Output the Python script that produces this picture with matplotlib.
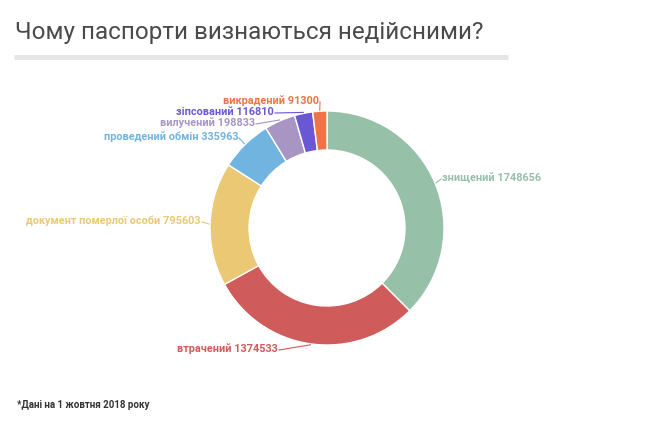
import numpy as np
import matplotlib.pyplot as plt
import matplotlib

matplotlib.rcParams['font.family'] = ['Roboto', 'DejaVu Sans']

# дані
labels = ['знищений', 'втрачений', 'документ померлої особи', 'проведений обмін',
          'вилучений', 'зіпсований', 'викрадений']
values = [1748656, 1374533, 795603, 335963, 198833, 116810, 91300]
colors = ['#97c0a8', '#cf5b5a', '#eac874', '#72b4e0', '#a895c4', '#6a57d6', '#ee7346']

# розміщення підписів (пікселі, від верхнього лівого кута)
label_xy = [(441, 178), (279, 349), (202, 221), (239, 137),
            (256, 123), (275, 112), (320, 101)]
label_ha = ['left', 'right', 'right', 'right', 'right', 'right', 'right']

W, H = 654, 430
fig = plt.figure(figsize=(W / 100, H / 100), dpi=100)
ax = fig.add_axes([0, 0, 1, 1])

cx, cy, R, r = 327, H - 228, 117, 78
wedges, _ = ax.pie(values, colors=colors, startangle=90, counterclock=False,
                   center=(cx, cy), radius=R, frame=True,
                   wedgeprops=dict(width=R - r, edgecolor='white', linewidth=1))
ax.set_xlim(0, W)
ax.set_ylim(0, H)
ax.set_aspect('equal')
ax.axis('off')

# підписи з лініями-виносками
for w, lab, v, c, (tx, ty), ha in zip(wedges, labels, values, colors, label_xy, label_ha):
    mid = np.deg2rad((w.theta1 + w.theta2) / 2)
    px = cx + (R + 1) * np.cos(mid)
    py = cy + (R + 1) * np.sin(mid)
    ty = H - ty
    ax.plot([px, tx], [py, ty - 1], color=c, lw=0.8)
    ax.text(tx + (1 if ha == 'left' else -1), ty, f'{lab} {v}', color=c,
            fontsize=7.8, fontweight='bold', ha=ha, va='center')

# заголовок
fig.text(15 / W, 1 - 33 / H, 'Чому паспорти визнаються недійсними?',
         fontsize=17.5, color='#4a4a4a', ha='left', va='center')
ax.plot([14, 508], [H - 57, H - 57], color='#e6e6e6', lw=3.5, solid_capstyle='butt')

fig.text(17 / W, 1 - 405 / H, '*Дані на 1 жовтня 2018 року',
         fontsize=7, fontweight='bold', color='#333333', ha='left', va='center')

fig.savefig('out.png', dpi=100)
